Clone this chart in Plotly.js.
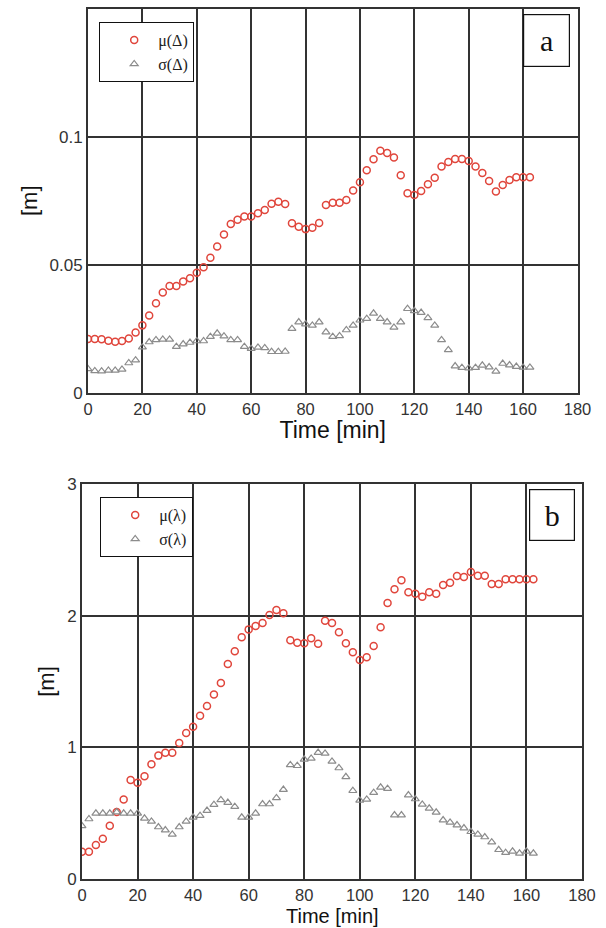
<!DOCTYPE html>
<html>
<head>
<meta charset="utf-8">
<script src="https://cdn.plot.ly/plotly-3.0.1.min.js"></script>
<style>
  html, body { margin: 0; padding: 0; background: #ffffff; }
  #chart { width: 606px; height: 928px; }
</style>
</head>
<body>
<div id="chart"></div>
<script>
// ---- Data ----
const time = [0, 2.5, 5, 7.5, 10, 12.5, 15, 17.5, 20, 22.5, 25, 27.5, 30, 32.5, 35, 37.5, 40, 42.5, 45, 47.5,
  50, 52.5, 55, 57.5, 60, 62.5, 65, 67.5, 70, 72.5, 75, 77.5, 80, 82.5, 85, 87.5, 90, 92.5, 95, 97.5,
  100, 102.5, 105, 107.5, 110, 112.5, 115, 117.5, 120, 122.5, 125, 127.5, 130, 132.5, 135, 137.5, 140, 142.5, 145, 147.5,
  150, 152.5, 155, 157.5, 160, 162.5];

// Panel a: mean and std of Delta [m]
const muDelta = [0.0210, 0.0210, 0.0209, 0.0203, 0.0199, 0.0202, 0.0212, 0.0235, 0.0263, 0.0302,
  0.0349, 0.0391, 0.0417, 0.0417, 0.0434, 0.0447, 0.0469, 0.0490, 0.0527, 0.0571,
  0.0618, 0.0659, 0.0676, 0.0688, 0.0688, 0.0701, 0.0714, 0.0738, 0.0746, 0.0737,
  0.0662, 0.0648, 0.0639, 0.0644, 0.0663, 0.0733, 0.0742, 0.0742, 0.0753, 0.0790,
  0.0822, 0.0869, 0.0912, 0.0945, 0.0936, 0.0919, 0.0849, 0.0779, 0.0772, 0.0788,
  0.0814, 0.0840, 0.0884, 0.0901, 0.0913, 0.0913, 0.0905, 0.0884, 0.0858, 0.0827,
  0.0786, 0.0811, 0.0831, 0.0842, 0.0842, 0.0842];
const sigmaDelta = [0.0093, 0.0085, 0.0084, 0.0087, 0.0087, 0.0091, 0.0116, 0.0127, 0.0178, 0.0198,
  0.0206, 0.0208, 0.0208, 0.0180, 0.0190, 0.0196, 0.0202, 0.0202, 0.0219, 0.0232,
  0.0221, 0.0206, 0.0206, 0.0180, 0.0172, 0.0177, 0.0175, 0.0160, 0.0160, 0.0161,
  0.0250, 0.0276, 0.0268, 0.0263, 0.0276, 0.0237, 0.0219, 0.0222, 0.0245, 0.0263,
  0.0283, 0.0289, 0.0310, 0.0289, 0.0276, 0.0255, 0.0276, 0.0328, 0.0320, 0.0313,
  0.0292, 0.0263, 0.0206, 0.0167, 0.0104, 0.0098, 0.0096, 0.0098, 0.0107, 0.0100,
  0.0083, 0.0114, 0.0108, 0.0102, 0.0099, 0.0099];

// Panel b: mean and std of lambda [m]
const muLambda = [0.205, 0.205, 0.256, 0.304, 0.403, 0.507, 0.603, 0.750, 0.730, 0.779,
  0.870, 0.936, 0.958, 0.958, 1.032, 1.108, 1.156, 1.240, 1.313, 1.400,
  1.488, 1.633, 1.729, 1.836, 1.896, 1.922, 1.945, 2.005, 2.043, 2.018,
  1.813, 1.795, 1.790, 1.828, 1.787, 1.962, 1.944, 1.874, 1.790, 1.722,
  1.663, 1.684, 1.770, 1.912, 2.097, 2.201, 2.269, 2.178, 2.167, 2.145,
  2.178, 2.167, 2.233, 2.251, 2.302, 2.294, 2.332, 2.304, 2.304, 2.241,
  2.241, 2.277, 2.277, 2.277, 2.277, 2.277];
const sigmaLambda = [0.401, 0.454, 0.497, 0.497, 0.497, 0.507, 0.497, 0.497, 0.497, 0.459,
  0.436, 0.393, 0.370, 0.337, 0.393, 0.436, 0.467, 0.479, 0.518, 0.563,
  0.599, 0.579, 0.548, 0.467, 0.467, 0.497, 0.568, 0.568, 0.614, 0.678,
  0.865, 0.859, 0.908, 0.915, 0.959, 0.953, 0.892, 0.842, 0.775, 0.669,
  0.596, 0.603, 0.654, 0.695, 0.685, 0.484, 0.484, 0.636, 0.606, 0.565,
  0.535, 0.505, 0.446, 0.428, 0.408, 0.385, 0.357, 0.337, 0.317, 0.278,
  0.220, 0.198, 0.208, 0.193, 0.208, 0.193];

const xTicks = [0, 20, 40, 60, 80, 100, 120, 140, 160, 180];
const yTicksA = [0, 0.05, 0.1];
const yTickTextA = ['0', '0.05', '0.1'];
const yTicksB = [0, 1, 2, 3];
const seriesNames = { muA: 'μ(Δ)', sigA: 'σ(Δ)', muB: 'μ(λ)', sigB: 'σ(λ)' };
const panelLabels = ['a', 'b'];
const xTitle = 'Time [min]';
const yTitle = '[m]';

// ---- Styling ----
const W = 606, H = 928;
const RED = '#e0463c';
const GRAY = '#8c8c8c';
const GRID = '#333333';
const sans = 'Liberation Sans, Arial, sans-serif';
const serif = 'Liberation Serif, Times New Roman, serif';

const circleMarker = { symbol: 'circle-open', size: 7, color: RED, line: { width: 1.5, color: RED } };
const triMarker = { symbol: 'triangle-up-open', size: 7, color: GRAY, line: { width: 1.2, color: GRAY } };

const traces = [
  { x: time, y: muDelta, type: 'scatter', mode: 'markers', name: seriesNames.muA, marker: circleMarker, xaxis: 'x', yaxis: 'y', legend: 'legend' },
  { x: time, y: sigmaDelta, type: 'scatter', mode: 'markers', name: seriesNames.sigA, marker: triMarker, xaxis: 'x', yaxis: 'y', legend: 'legend' },
  { x: time, y: muLambda, type: 'scatter', mode: 'markers', name: seriesNames.muB, marker: circleMarker, xaxis: 'x2', yaxis: 'y2', legend: 'legend2' },
  { x: time, y: sigmaLambda, type: 'scatter', mode: 'markers', name: seriesNames.sigB, marker: triMarker, xaxis: 'x2', yaxis: 'y2', legend: 'legend2' }
];

function xAxis(domain, anchor, titleText) {
  return {
    domain: domain, anchor: anchor, range: [0, 180], tickvals: xTicks,
    showgrid: true, gridcolor: GRID, gridwidth: 2,
    showline: true, linecolor: GRID, linewidth: 2, mirror: 'ticks',
    ticks: 'inside', ticklen: 4, tickcolor: GRID,
    zeroline: false, fixedrange: true,
    tickfont: { family: sans, size: 16.5, color: '#333' },
    title: { text: titleText, font: { family: sans, size: 23, color: '#111' }, standoff: 5 }
  };
}
function yAxis(domain, anchor, range, vals, text) {
  const ax = {
    domain: domain, anchor: anchor, range: range, tickvals: vals,
    showgrid: true, gridcolor: GRID, gridwidth: 2,
    showline: true, linecolor: GRID, linewidth: 2, mirror: 'ticks',
    ticks: 'inside', ticklen: 4, tickcolor: GRID,
    zeroline: false, fixedrange: true,
    tickfont: { family: sans, size: 17, color: '#333' },
    title: { text: yTitle, font: { family: sans, size: 22, color: '#111' }, standoff: 6 }
  };
  if (text) ax.ticktext = text;
  return ax;
}

function legendBox(x, y) {
  return {
    x: x / W, y: 1 - y / H, xanchor: 'left', yanchor: 'top',
    bgcolor: '#ffffff', bordercolor: '#111', borderwidth: 1.2,
    font: { family: serif, size: 16, color: '#222' },
    itemwidth: 38, indentation: 10, tracegroupgap: 0
  };
}

const layout = {
  width: W, height: H,
  margin: { l: 0, r: 0, t: 0, b: 0 },
  paper_bgcolor: '#ffffff', plot_bgcolor: '#ffffff',
  showlegend: true,
  xaxis: xAxis([88 / W, 577.5 / W], 'y', xTitle),
  yaxis: yAxis([1 - 392.7 / H, 1 - 8.7 / H], 'x', [0, 0.15], yTicksA, yTickTextA),
  // lower panel's x title sits right at the bottom edge (drawn as an annotation below)
  xaxis2: xAxis([82 / W, 582 / W], 'y2', ''),
  yaxis2: yAxis([1 - 878.7 / H, 1 - 484.2 / H], 'x2', [0, 3], yTicksB, null),
  legend: legendBox(99, 22),
  legend2: legendBox(100, 497),
  annotations: [
    { text: panelLabels[0], xref: 'paper', yref: 'paper', x: 546.5 / W, y: 1 - 40.5 / H,
      xanchor: 'center', yanchor: 'middle', showarrow: false, width: 41, height: 47,
      bordercolor: '#111', borderwidth: 1.2, borderpad: 2, bgcolor: '#ffffff',
      font: { family: serif, size: 30, color: '#111' } },
    { text: panelLabels[1], xref: 'paper', yref: 'paper', x: 552 / W, y: 1 - 515 / H,
      xanchor: 'center', yanchor: 'middle', showarrow: false, width: 40, height: 46,
      bordercolor: '#111', borderwidth: 1.2, borderpad: 2, bgcolor: '#ffffff',
      font: { family: serif, size: 30, color: '#111' } },
    { text: xTitle, xref: 'x2 domain', yref: 'paper', x: 0.5, y: 0, borderpad: 0,
      xanchor: 'center', yanchor: 'bottom', showarrow: false,
      font: { family: sans, size: 20, color: '#111' } }
  ]
};

Plotly.newPlot('chart', traces, layout, { displayModeBar: false, staticPlot: true });
</script>
</body>
</html>
